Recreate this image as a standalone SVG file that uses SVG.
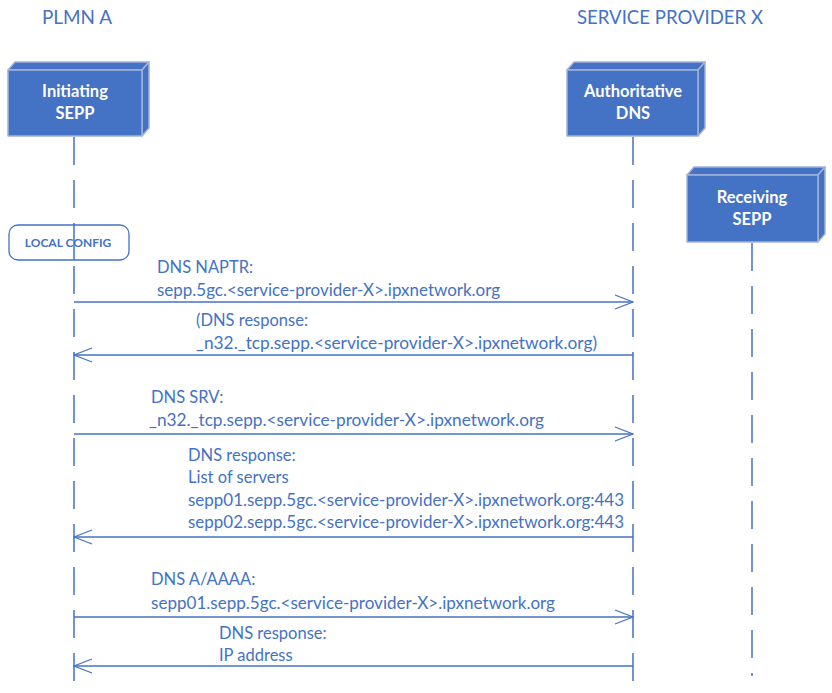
<svg xmlns="http://www.w3.org/2000/svg" width="832" height="693" viewBox="0 0 832 693">
<style>
.t{font-family:Lato,"Liberation Sans",sans-serif;font-size:16.5px;fill:#4472C4}
.h{font-family:Lato,"Liberation Sans",sans-serif;font-size:18.5px;fill:#4472C4}
.b{font-family:Lato,"Liberation Sans",sans-serif;font-size:16.5px;font-weight:bold;fill:#FFFFFF;text-anchor:middle}
.face{fill:#4472C4;stroke:#A3B3D6;stroke-width:1.5;stroke-linejoin:round}
.life{stroke:#4472C4;stroke-width:1.5;stroke-dasharray:28 15;fill:none}
.msg{stroke:#4472C4;stroke-width:1.3;fill:none}
</style>
<defs>
<marker id="ah" viewBox="0 0 20 16" refX="19" refY="8" markerWidth="20" markerHeight="16" markerUnits="userSpaceOnUse" orient="auto">
<polyline points="1,1 19,8 1,15" fill="none" stroke="#4472C4" stroke-width="1.3"/>
</marker>
</defs>
<rect width="832" height="693" fill="#FFFFFF"/>
<text class="h" x="42" y="24" textLength="70" lengthAdjust="spacingAndGlyphs">PLMN A</text>
<text class="h" x="577" y="24" textLength="186" lengthAdjust="spacingAndGlyphs">SERVICE PROVIDER X</text>

<g id="lifelines">
<line class="life" x1="74" y1="137" x2="74" y2="693"/>
<line class="life" x1="633" y1="137" x2="633" y2="693"/>
<line class="life" x1="752" y1="243" x2="752" y2="676"/>
</g>

<g id="initiating-sepp">
<polygon class="face" points="8,70 15,62 149,62 142,70"/>
<polygon class="face" points="142,70 149,62 149,128 142,136"/>
<rect class="face" x="8" y="70" width="134" height="66"/>
<text class="b" x="75" y="97">Initiating</text>
<text class="b" x="75" y="119">SEPP</text>
</g>

<g id="authoritative-dns">
<polygon class="face" points="567,70 574,62 705,62 698,70"/>
<polygon class="face" points="698,70 705,62 705,128 698,136"/>
<rect class="face" x="567" y="70" width="131" height="66"/>
<text class="b" x="633" y="97">Authoritative</text>
<text class="b" x="633" y="119">DNS</text>
</g>

<g id="receiving-sepp">
<polygon class="face" points="687,175 694,167 825,167 818,175"/>
<polygon class="face" points="818,175 825,167 825,234 818,242"/>
<rect class="face" x="687" y="175" width="131" height="67"/>
<text class="b" x="752" y="203">Receiving</text>
<text class="b" x="752" y="225">SEPP</text>
</g>

<g id="local-config">
<rect x="9" y="225" width="120" height="35" rx="9" fill="#FFFFFF" stroke="#4472C4" stroke-width="1.3"/>
<text x="68" y="247" font-family="Lato,'Liberation Sans',sans-serif" font-size="12" font-weight="bold" fill="#4472C4" text-anchor="middle">LOCAL CONFIG</text>
<line x1="74" y1="225" x2="74" y2="260" stroke="#4472C4" stroke-width="1.5"/>
</g>

<g id="connectors">
<line class="msg" x1="74" y1="302" x2="633" y2="302" marker-end="url(#ah)"/>
<line class="msg" x1="633" y1="355" x2="74" y2="355" marker-end="url(#ah)"/>
<line class="msg" x1="74" y1="434" x2="633" y2="434" marker-end="url(#ah)"/>
<line class="msg" x1="633" y1="537" x2="74" y2="537" marker-end="url(#ah)"/>
<line class="msg" x1="74" y1="617" x2="633" y2="617" marker-end="url(#ah)"/>
<line class="msg" x1="633" y1="666" x2="74" y2="666" marker-end="url(#ah)"/>
</g>

<g id="labels">
<text class="t" x="157" y="273">DNS NAPTR:</text>
<text class="t" x="157" y="296" textLength="343" lengthAdjust="spacingAndGlyphs">sepp.5gc.&lt;service-provider-X&gt;.ipxnetwork.org</text>
<text class="t" x="196" y="326">(DNS response:</text>
<text class="t" x="196" y="349" textLength="401" lengthAdjust="spacingAndGlyphs">_n32._tcp.sepp.&lt;service-provider-X&gt;.ipxnetwork.org)</text>
<text class="t" x="151" y="403">DNS SRV:</text>
<text class="t" x="149" y="426" textLength="395" lengthAdjust="spacingAndGlyphs">_n32._tcp.sepp.&lt;service-provider-X&gt;.ipxnetwork.org</text>
<text class="t" x="188" y="461">DNS response:</text>
<text class="t" x="188" y="483">List of servers</text>
<text class="t" x="188" y="506" textLength="436" lengthAdjust="spacingAndGlyphs">sepp01.sepp.5gc.&lt;service-provider-X&gt;.ipxnetwork.org:443</text>
<text class="t" x="188" y="528" textLength="436" lengthAdjust="spacingAndGlyphs">sepp02.sepp.5gc.&lt;service-provider-X&gt;.ipxnetwork.org:443</text>
<text class="t" x="151" y="585">DNS A/AAAA:</text>
<text class="t" x="151" y="609" textLength="404" lengthAdjust="spacingAndGlyphs">sepp01.sepp.5gc.&lt;service-provider-X&gt;.ipxnetwork.org</text>
<text class="t" x="219" y="639">DNS response:</text>
<text class="t" x="219" y="661">IP address</text>
</g>
</svg>
